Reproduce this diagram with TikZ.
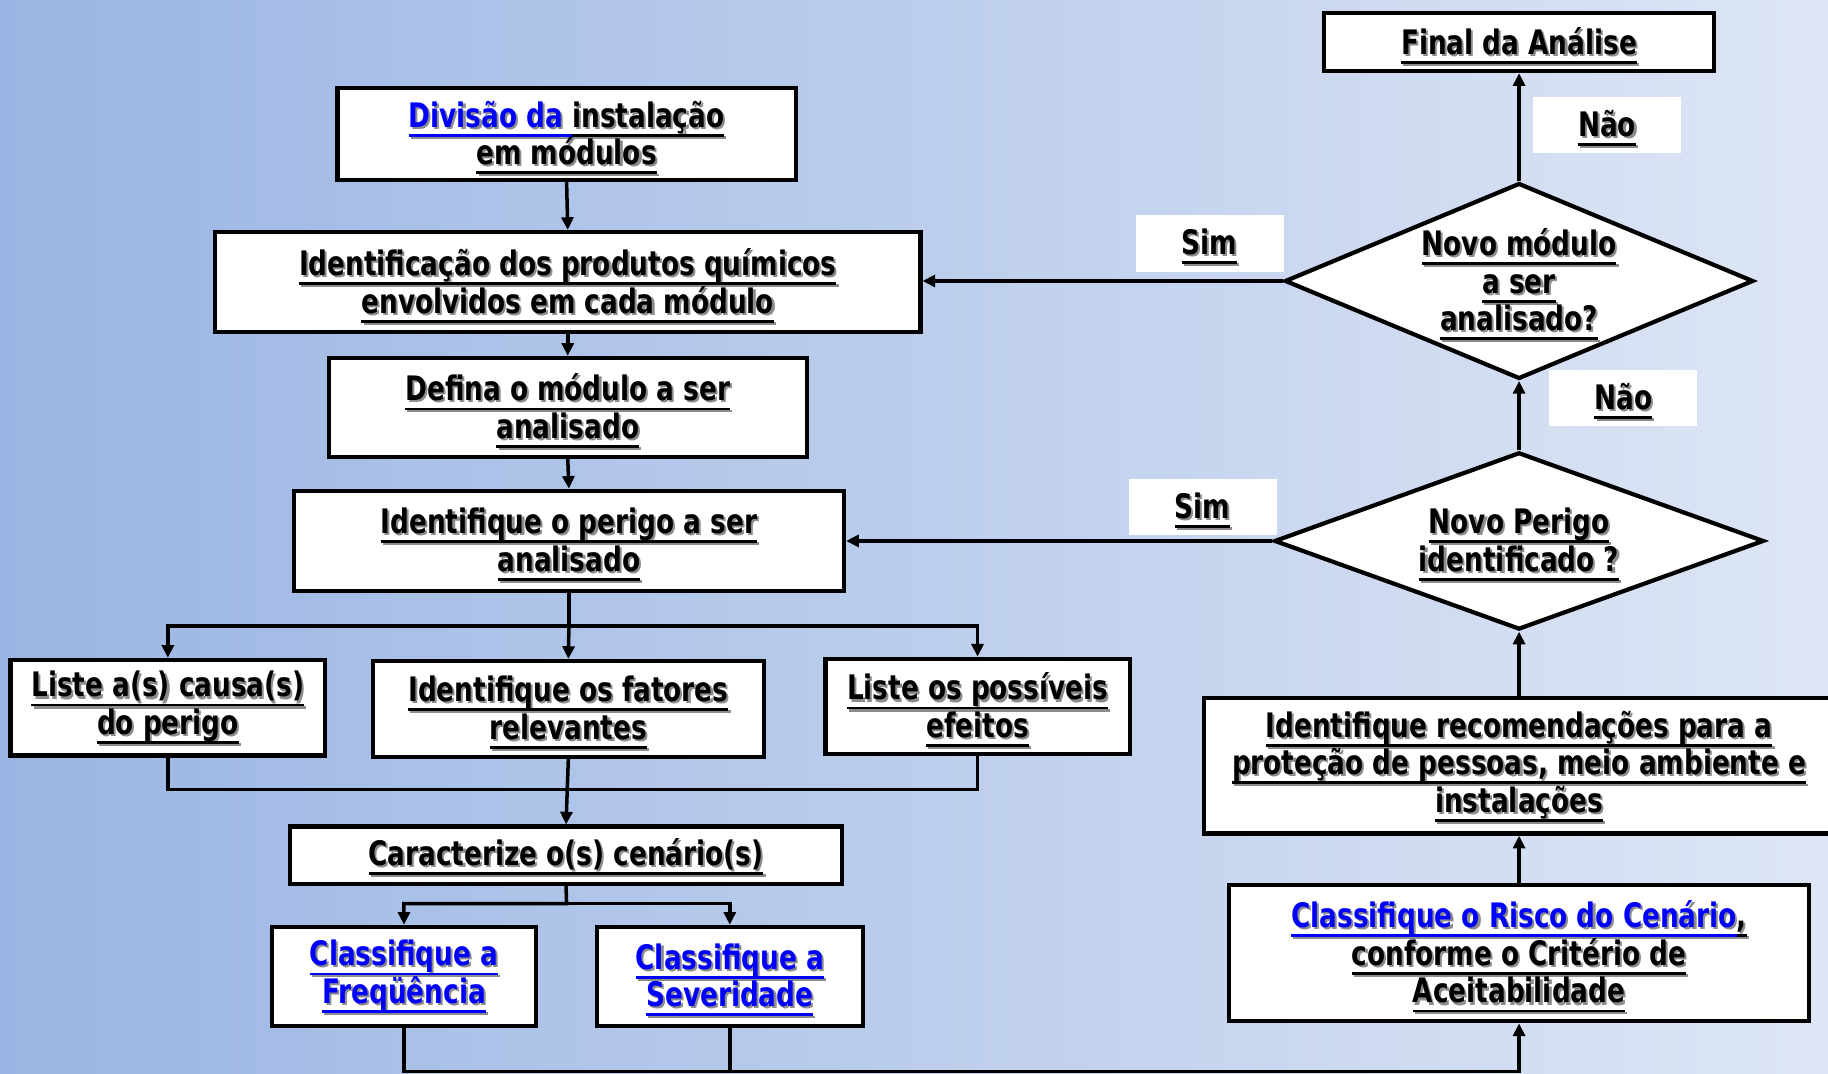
\documentclass[tikz,border=0pt]{standalone}
\usepackage{fontspec}
\newfontfamily\flowfont{DejaVu Sans}[FakeStretch=0.78]
\usetikzlibrary{arrows.meta, positioning, shapes.geometric}
\definecolor{bgleft}{HTML}{9AB5E3}
\definecolor{bgright}{HTML}{DEE6F5}
\definecolor{linkblue}{HTML}{0000FF}
\definecolor{shadowgray}{HTML}{8C8C8C}
\newcommand{\pxu}{0.011658cm}
\setlength{\lineskiplimit}{-20pt}
\newcommand{\flowtext}{\flowfont\bfseries\fontsize{9.6}{10.7}\selectfont}
% a thicker underline, and underlined text with a small grey drop shadow
\newcommand{\ulline}[1]{\setbox0=\hbox{#1}\rlap{\smash{\rule[-2.7pt]{\wd0}{0.8pt}}}\box0}
\newcommand{\shul}[2][black]{\leavevmode\rlap{\kern0.6pt\raisebox{-0.6pt}{\color{shadowgray}\ulline{#2}}}{\color{#1}\ulline{#2}}}

\begin{document}
\begin{tikzpicture}[x=\pxu, y=-\pxu,
    every node/.style={font=\flowtext, align=center},
    box/.style={draw, fill=white, line width=1.2pt, inner sep=0pt},
    sz/.style 2 args={minimum width=#1*\pxu, minimum height=#2*\pxu},
    query/.style={diamond, draw, fill=white, line width=1.2pt, inner sep=0pt},
    answer/.style={fill=white, inner sep=0pt},
    flow/.style={line width=1pt, -{Triangle[length=3.6pt, width=3.4pt]}},
    link/.style={line width=1pt},
]
\useasboundingbox (0,0) rectangle (1568,921);
\fill[left color=bgleft, right color=bgright] (0,0) rectangle (1568,921);

% main column
\node[box, sz={393}{79}] (divisao) at (486,115)
    {\shul[linkblue]{Divisão da }\shul{instalação}\\\shul{em módulos}};
\node[box, sz={605}{86}] (ident) at (487,242)
    {\shul{Identificação dos produtos químicos}\\\shul{envolvidos em cada módulo}};
\node[box, sz={410}{85}] (defina) at (487,349.5)
    {\shul{Defina o módulo a ser}\\\shul{analisado}};
\node[box, sz={472}{86}] (perigo) at (488,464)
    {\shul{Identifique o perigo a ser}\\\shul{analisado}};

% three parallel steps
\node[box, sz={270}{82}] (causas) at (144,607)
    {\shul{Liste a(s) causa(s)}\\\shul{do perigo}};
\node[box, sz={335}{82}] (fatores) at (487.5,608)
    {\shul{Identifique os fatores}\\\shul{relevantes}};
\node[box, sz={261}{82}] (efeitos) at (838.5,606)
    {\shul{Liste os possíveis}\\\shul{efeitos}};

\node[box, sz={473}{49}] (cenario) at (485.5,733.5) {\shul{Caracterize o(s) cenário(s)}};
\node[box, sz={227}{85}] (freq) at (346.5,837.5)
    {\shul[linkblue]{Classifique a}\\\shul[linkblue]{Freqüência}};
\node[box, sz={228}{85}] (sever) at (626,837.5)
    {\shul[linkblue]{Classifique a}\\\shul[linkblue]{Severidade}};

% right column, read upwards
\node[box, sz={498}{117}] (risco) at (1303,817.5)
    {\shul[linkblue]{Classifique o Risco do Cenário}\shul{,}\\\shul{conforme o Critério de}\\\shul{Aceitabilidade}};
\node[box, sz={540}{116}] (recom) at (1303,657)
    {\shul{Identifique recomendações para a}\\\shul{proteção de pessoas, meio ambiente e}\\\shul{instalações}};
\node[query, aspect=2.76, sz={420}{152}] (perigoq) at (1303,464)
    {\shul{Novo Perigo}\\\shul{identificado ?}};
\node[query, aspect=2.39, sz={402}{168}] (moduloq) at (1303,241)
    {\shul{Novo módulo}\\\shul{a ser}\\\shul{analisado?}};
\node[box, sz={334}{50}] (final) at (1303,36) {\shul{Final da Análise}};

% answers
\node[answer, sz={127}{48}] (nao1) at (1378.5,107) {\shul{Não}};
\node[answer, sz={127}{49}] (sim1) at (1037.5,208.5) {\shul{Sim}};
\node[answer, sz={127}{48}] (nao2) at (1392.5,341) {\shul{Não}};
\node[answer, sz={127}{48}] (sim2) at (1031.5,435) {\shul{Sim}};

% junction points
\coordinate (split1) at (488,537);
\coordinate (join1) at (487.5,677);
\coordinate (split2) at (486,775);
\coordinate (join2) at (626,919);

\draw[flow] (divisao.south) -- (ident.north);
\draw[flow] (ident.south) -- (defina.north);
\draw[flow] (defina.south) -- (perigo.north);

\draw[flow] (perigo.south) -- (split1) -| (causas.north);
\draw[flow] (split1) -| (efeitos.north);
\draw[flow] (split1) -- (fatores.north);

\draw[link] (causas.south) |- (join1);
\draw[link] (efeitos.south) |- (join1);
\draw[flow] (fatores.south) -- (cenario.north);

\draw[flow] (cenario.south) -- (split2) -| (freq.north);
\draw[flow] (split2) -| (sever.north);

\draw[link] (freq.south) |- (join2);
\draw[flow] (sever.south) -- (join2) -| (risco.south);

\draw[flow] (risco.north) -- (recom.south);
\draw[flow] (recom.north) -- (perigoq.south);
\draw[flow] (perigoq.north) -- (moduloq.south);
\draw[flow] (moduloq.north) -- (final.south);
\draw[flow] (moduloq.west) -- (moduloq.west -| ident.east);
\draw[flow] (perigoq.west) -- (perigoq.west -| perigo.east);
\end{tikzpicture}
\end{document}
